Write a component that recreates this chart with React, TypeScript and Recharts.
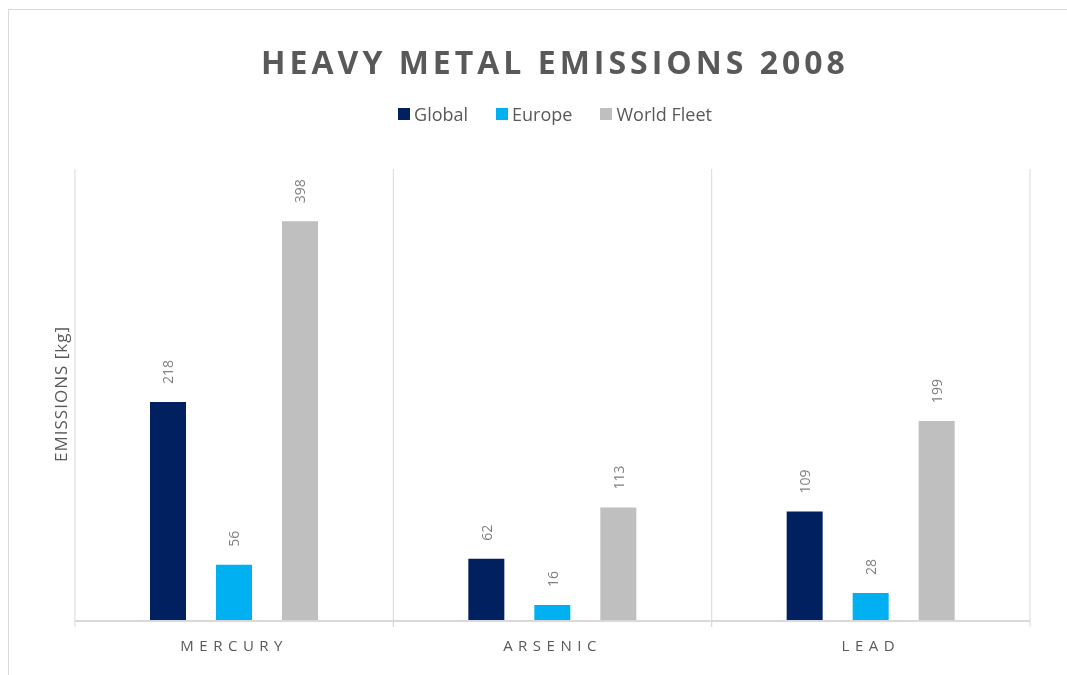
import React from "react";
import { BarChart, Bar, XAxis, YAxis, CartesianGrid, LabelList } from "recharts";

const metals = ["MERCURY", "ARSENIC", "LEAD"];
const globalKg = [218, 62, 109];
const europeKg = [56, 16, 28];
const worldFleetKg = [398, 113, 199];
const seriesNames = ["Global", "Europe", "World Fleet"];
const seriesKeys = ["global", "europe", "worldFleet"];
const seriesColors = ["#002060", "#00B0F0", "#BFBFBF"];

const W = 1058;
const H = 650;
const MARGIN = { top: 159, right: 37, left: 66, bottom: 0 };
const BAND = (W - MARGIN.left - MARGIN.right) / metals.length;
const FONT = "'Open Sans', sans-serif";
const GREY = "#595959";
const LINE = "#d9d9d9";

const data = metals.map((m, i) => ({
  metal: m,
  global: globalKg[i],
  europe: europeKg[i],
  worldFleet: worldFleetKg[i],
}));

const MetalTick = (props: any) => {
  const { x, y, payload } = props;
  return (
    <g>
      <line x1={x - BAND / 2} x2={x - BAND / 2} y1={y} y2={y + 6} stroke={LINE} />
      <line x1={x + BAND / 2} x2={x + BAND / 2} y1={y} y2={y + 6} stroke={LINE} />
      <text
        x={x}
        y={y + 24}
        textAnchor="middle"
        dominantBaseline="central"
        fill={GREY}
        fontSize={15}
        fontFamily={FONT}
        letterSpacing={5.5}
      >
        {payload.value}
      </text>
    </g>
  );
};

const ValueLabel = (props: any) => {
  const { x, y, width, value } = props;
  const cx = x + width / 2;
  const ty = y - 18;
  return (
    <text
      x={cx}
      y={ty}
      transform={`rotate(-90 ${cx} ${ty})`}
      textAnchor="start"
      dominantBaseline="central"
      fill="#7f7f7f"
      fontSize={14}
      fontFamily={FONT}
    >
      {value}
    </text>
  );
};

export default function App() {
  return (
    <div style={{ position: "relative", top: 2, left: 1, width: W, height: H, fontFamily: FONT }}>
      <div
        style={{
          position: "fixed",
          left: 8,
          top: 9,
          right: -20,
          bottom: -20,
          borderTop: `1px solid ${LINE}`,
          borderLeft: `1px solid ${LINE}`,
          pointerEvents: "none",
        }}
      />
      <div
        style={{
          position: "absolute",
          left: 17,
          width: W,
          top: 32,
          textAlign: "center",
          fontSize: 32,
          fontWeight: 700,
          letterSpacing: 4,
          color: GREY,
          lineHeight: "40px",
        }}
      >
        HEAVY METAL EMISSIONS 2008
      </div>
      <div
        style={{
          position: "absolute",
          left: 17,
          width: W,
          top: 93,
          display: "flex",
          justifyContent: "center",
          gap: 28,
          fontSize: 18,
          color: GREY,
          lineHeight: "22px",
        }}
      >
        {seriesNames.map((n, i) => (
          <span key={n} style={{ display: "flex", alignItems: "center" }}>
            <span
              style={{
                width: 12,
                height: 12,
                background: seriesColors[i],
                marginRight: 4,
                display: "inline-block",
              }}
            />
            {n}
          </span>
        ))}
      </div>
      <div
        style={{
          position: "absolute",
          left: 51,
          top: 384,
          transform: "translate(-50%, -50%) rotate(-90deg)",
          fontSize: 17,
          letterSpacing: 1,
          color: GREY,
          whiteSpace: "nowrap",
        }}
      >
        EMISSIONS [kg]
      </div>
      <BarChart
        width={W}
        height={H}
        data={data}
        margin={MARGIN}
        barSize={36}
        barGap={30}
      >
        <CartesianGrid
          horizontal={false}
          stroke={LINE}
          verticalCoordinatesGenerator={({ offset }: any) =>
            metals.map((_, i) => offset.left + i * offset.width / metals.length).concat(offset.left + offset.width)
          }
        />
        <XAxis
          dataKey="metal"
          height={39}
          tickLine={false}
          tickSize={0}
          tickMargin={0}
          axisLine={{ stroke: LINE, strokeWidth: 2 }}
          tick={<MetalTick />}
          interval={0}
        />
        <YAxis hide domain={[0, 450]} />
        {seriesKeys.map((k, i) => (
          <Bar key={k} dataKey={k} name={seriesNames[i]} fill={seriesColors[i]} isAnimationActive={false}>
            <LabelList dataKey={k} content={<ValueLabel />} />
          </Bar>
        ))}
      </BarChart>
    </div>
  );
}
